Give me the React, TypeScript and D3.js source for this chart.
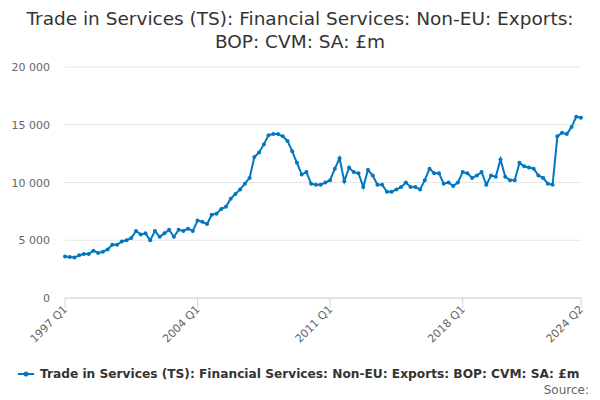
import * as d3 from 'd3';

const values = [
  3600, 3550, 3500, 3700, 3800, 3800, 4100, 3900, 4000, 4200, 4600, 4600,
  4900, 5000, 5200, 5800, 5500, 5600, 5000, 5800, 5300, 5600, 5900, 5300,
  5900, 5800, 6000, 5800, 6700, 6600, 6400, 7200, 7300, 7700, 7900, 8600,
  9000, 9400, 9900, 10400, 12200, 12600, 13300, 14100, 14200, 14200, 14000, 13600,
  12700, 11700, 10700, 10900, 9900, 9800, 9800, 10000, 10200, 11200, 12100, 10100,
  11300, 10900, 10800, 9600, 11100, 10600, 9800, 9800, 9200, 9200, 9400, 9600,
  10000, 9600, 9600, 9400, 10200, 11200, 10800, 10800, 9900, 10000, 9700, 10000,
  10900, 10800, 10400, 10600, 10900, 9800, 10600, 10500, 12000, 10500, 10200, 10200,
  11700, 11400, 11300, 11200, 10600, 10400, 9900, 9800, 14000, 14300, 14200, 14800,
  15700, 15600,
];
const labels = values.map((_, i) => `${1997 + Math.floor(i / 4)} Q${(i % 4) + 1}`);
const tickLabels = ['1997 Q1', '2004 Q1', '2011 Q1', '2018 Q1', '2024 Q2'];
const yTicks = [0, 5000, 10000, 15000, 20000];
const seriesName = 'Trade in Services (TS): Financial Services: Non-EU: Exports: BOP: CVM: SA: £m';

const font = 'DejaVu Sans, sans-serif';

export default function App() {
  const left = 65, right = 581, top = 67, bottom = 298;
  const x = d3.scaleLinear().domain([0, values.length - 1]).range([left, right]);
  const y = d3.scaleLinear().domain([0, 20000]).range([bottom, top]);
  const line = d3.line<number>().x((_, i) => x(i)).y((d) => y(d));
  const fmt = (v: number) => d3.format(',')(v).replace(',', ' ');

  return (
    <svg width={600} height={400} style={{ position: 'absolute', left: 0, top: 0 }} fontFamily={font}>
      <rect width={600} height={400} fill="#fff" />
      <text x={300} y={25} textAnchor="middle" fontSize={18.5} fill="#333">
        Trade in Services (TS): Financial Services: Non-EU: Exports:
      </text>
      <text x={300} y={48} textAnchor="middle" fontSize={18.5} fill="#333">
        BOP: CVM: SA: £m
      </text>
      {yTicks.map((t) => (
        <g key={t}>
          <line x1={left} x2={right} y1={y(t)} y2={y(t)} stroke="#e6e6e6" />
          <text x={50} y={y(t) + 4} textAnchor="end" fontSize={11} fill="#666">{fmt(t)}</text>
        </g>
      ))}
      <line x1={left} x2={right} y1={bottom} y2={bottom} stroke="#ccd6eb" />
      {tickLabels.map((l) => {
        const xi = x(labels.indexOf(l));
        return (
          <g key={l}>
            <line x1={xi} x2={xi} y1={bottom} y2={bottom + 10} stroke="#ccd6eb" />
            <text transform={`translate(${xi + 3},${bottom + 12}) rotate(-45)`} textAnchor="end" fontSize={11} fill="#666">{l}</text>
          </g>
        );
      })}
      <path d={line(values) || ''} fill="none" stroke="#0077c0" strokeWidth={2} />
      {values.map((v, i) => (
        <circle key={i} cx={x(i)} cy={y(v)} r={2} fill="#0077c0" />
      ))}
      <line x1={18} x2={34} y1={374} y2={374} stroke="#0077c0" strokeWidth={2} />
      <circle cx={26} cy={374} r={2.5} fill="#0077c0" />
      <text x={40} y={378} fontSize={12.2} fontWeight="bold" fill="#333">{seriesName}</text>
      <text x={589} y={394} textAnchor="end" fontSize={12} fill="#666">Source:</text>
    </svg>
  );
}
